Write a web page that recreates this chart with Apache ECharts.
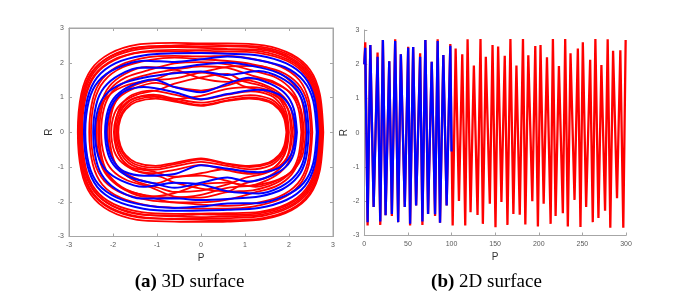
<!DOCTYPE html>
<html>
<head>
<meta charset="utf-8">
<script src="https://cdn.jsdelivr.net/npm/echarts@6/dist/echarts.min.js"></script>
<style>
html,body{margin:0;padding:0;background:#fff;}
#chart{width:696px;height:296px;}
</style>
</head>
<body>
<div id="chart"></div>
<script>
// ---------- Panel (a): phase-portrait loops, points [P, R] ----------
const redLoopsOuter = [
  [[2.78,0],[2.70,1.10],[2.48,1.79],[2.06,2.24],[1.43,2.50],[0.6,2.56],[0,2.56],[-0.6,2.57],[-1.45,2.52],[-2.08,2.26],[-2.50,1.80],[-2.72,1.11],[-2.80,0],[-2.72,-1.11],[-2.50,-1.80],[-2.08,-2.26],[-1.45,-2.52],[-0.6,-2.57],[0,-2.58],[0.6,-2.57],[1.43,-2.50],[2.06,-2.24],[2.48,-1.79],[2.70,-1.10]],
  [[2.76,0],[2.68,1.08],[2.46,1.75],[2.04,2.20],[1.41,2.45],[0.6,2.5],[0,2.52],[-0.6,2.5],[-1.43,2.43],[-2.06,2.18],[-2.48,1.74],[-2.70,1.07],[-2.78,0],[-2.70,-1.08],[-2.48,-1.75],[-2.06,-2.20],[-1.43,-2.45],[-0.6,-2.5],[0,-2.52],[0.6,-2.53],[1.41,-2.47],[2.04,-2.22],[2.46,-1.76],[2.68,-1.08]],
  [[2.74,0],[2.66,1.06],[2.44,1.72],[2.02,2.16],[1.39,2.41],[0.6,2.47],[0,2.46],[-0.6,2.48],[-1.41,2.45],[-2.04,2.2],[-2.46,1.75],[-2.68,1.08],[-2.76,0],[-2.68,-1.07],[-2.46,-1.74],[-2.04,-2.18],[-1.41,-2.43],[-0.6,-2.49],[0,-2.48],[0.6,-2.47],[1.39,-2.41],[2.02,-2.16],[2.44,-1.72],[2.66,-1.06]],
  [[2.72,0],[2.64,1.04],[2.42,1.69],[2.0,2.13],[1.37,2.37],[0.6,2.4],[0,2.43],[-0.6,2.45],[-1.39,2.39],[-2.02,2.15],[-2.44,1.71],[-2.66,1.05],[-2.74,0],[-2.66,-1.03],[-2.44,-1.68],[-2.02,-2.11],[-1.39,-2.35],[-0.6,-2.42],[0,-2.44],[0.6,-2.42],[1.37,-2.37],[2.0,-2.13],[2.42,-1.69],[2.64,-1.04]],
  [[2.70,0],[2.62,1.02],[2.40,1.67],[1.98,2.09],[1.35,2.33],[0.6,2.38],[0,2.36],[-0.6,2.37],[-1.37,2.31],[-2.0,2.08],[-2.42,1.65],[-2.64,1.01],[-2.72,0],[-2.64,-1.04],[-2.42,-1.69],[-2.0,-2.13],[-1.37,-2.37],[-0.6,-2.4],[0,-2.36],[0.6,-2.38],[1.35,-2.33],[1.98,-2.09],[2.40,-1.67],[2.62,-1.02]],
  [[2.68,0],[2.60,1.0],[2.38,1.63],[1.96,2.05],[1.33,2.28],[0.6,2.32],[0,2.3],[-0.6,2.33],[-1.35,2.3],[-1.98,2.07],[-2.40,1.65],[-2.62,1.01],[-2.70,0],[-2.62,-1.01],[-2.40,-1.65],[-1.98,-2.07],[-1.35,-2.3],[-0.6,-2.35],[0,-2.34],[0.6,-2.33],[1.33,-2.29],[1.96,-2.06],[2.38,-1.64],[2.60,-1.01]],
  [[2.53,0],[2.45,0.92],[2.23,1.51],[1.81,1.89],[1.18,2.11],[0.6,2.2],[0,2.18],[-0.6,2.2],[-1.19,2.16],[-1.82,1.94],[-2.24,1.54],[-2.46,0.95],[-2.54,0],[-2.46,-0.92],[-2.24,-1.51],[-1.82,-1.89],[-1.19,-2.11],[-0.6,-2.17],[0,-2.2],[0.6,-2.2],[1.18,-2.14],[1.81,-1.92],[2.23,-1.53],[2.45,-0.94]],
  [[2.50,0],[2.42,0.86],[2.20,1.4],[1.78,1.76],[1.15,1.96],[0.6,2.05],[0,2.1],[-0.6,2.15],[-1.15,2.08],[-1.78,1.87],[-2.20,1.48],[-2.42,0.91],[-2.5,0],[-2.42,-0.86],[-2.20,-1.4],[-1.78,-1.76],[-1.15,-1.96],[-0.6,-2.02],[0,-2.08],[0.6,-2.12],[1.15,-2.06],[1.78,-1.85],[2.20,-1.47],[2.42,-0.9]]
];
const redLoopsMiddle = [
  [[2.38,0],[2.31,0.82],[2.13,1.33],[1.78,1.7],[1.28,1.91],[0.6,1.88],[0,1.72],[-0.6,1.55],[-1.28,1.47],[-1.78,1.31],[-2.13,1.02],[-2.31,0.63],[-2.38,0],[-2.31,-0.78],[-2.13,-1.26],[-1.78,-1.61],[-1.28,-1.81],[-0.6,-1.88],[0,-1.8],[0.6,-1.6],[1.28,-1.52],[1.78,-1.35],[2.13,-1.05],[2.31,-0.65]],
  [[2.34,0],[2.27,0.66],[2.09,1.07],[1.74,1.37],[1.24,1.55],[0.6,1.45],[0,1.55],[-0.6,1.8],[-1.24,1.88],[-1.74,1.67],[-2.09,1.31],[-2.27,0.81],[-2.34,0],[-2.27,-0.8],[-2.09,-1.29],[-1.74,-1.65],[-1.24,-1.86],[-0.6,-1.75],[0,-1.5],[0.6,-1.45],[1.24,-1.57],[1.74,-1.39],[2.09,-1.09],[2.27,-0.67]],
  [[2.31,0],[2.24,0.76],[2.06,1.22],[1.71,1.57],[1.21,1.76],[0.6,1.95],[0,2.02],[-0.6,1.98],[-1.21,1.78],[-1.71,1.58],[-2.06,1.24],[-2.24,0.76],[-2.31,0],[-2.24,-0.79],[-2.06,-1.28],[-1.71,-1.64],[-1.21,-1.84],[-0.6,-2.02],[0,-2.02],[0.6,-1.94],[1.21,-1.74],[1.71,-1.55],[2.06,-1.21],[2.24,-0.75]],
  [[2.28,0],[2.21,0.69],[2.03,1.12],[1.68,1.44],[1.18,1.62],[0.6,1.85],[0,1.9],[-0.6,1.8],[-1.17,1.67],[-1.67,1.48],[-2.02,1.16],[-2.2,0.71],[-2.27,0],[-2.2,-0.67],[-2.02,-1.09],[-1.67,-1.39],[-1.17,-1.57],[-0.6,-1.85],[0,-1.88],[0.6,-1.72],[1.18,-1.67],[1.68,-1.48],[2.03,-1.16],[2.21,-0.71]],
  [[2.12,0],[2.05,0.64],[1.87,1.03],[1.52,1.32],[1.02,1.49],[0.6,1.35],[0,1.2],[-0.6,1.3],[-1.02,1.42],[-1.52,1.26],[-1.87,0.99],[-2.05,0.61],[-2.12,0],[-2.05,-0.63],[-1.87,-1.02],[-1.52,-1.31],[-1.02,-1.47],[-0.6,-1.3],[0,-1.25],[0.6,-1.4],[1.02,-1.55],[1.52,-1.37],[1.87,-1.07],[2.05,-0.66]],
  [[2.08,0],[2.01,0.57],[1.83,0.92],[1.48,1.17],[0.98,1.32],[0.6,1.55],[0,1.72],[-0.6,1.72],[-0.98,1.55],[-1.48,1.37],[-1.83,1.07],[-2.01,0.66],[-2.08,0],[-2.01,-0.68],[-1.83,-1.1],[-1.48,-1.41],[-0.98,-1.59],[-0.6,-1.72],[0,-1.68],[0.6,-1.5],[0.98,-1.32],[1.48,-1.17],[1.83,-0.92],[2.01,-0.57]],
  [[2.05,0],[1.98,0.63],[1.8,1.02],[1.45,1.31],[0.95,1.47],[0.6,1.68],[0,1.58],[-0.6,1.4],[-0.94,1.23],[-1.44,1.09],[-1.79,0.85],[-1.97,0.53],[-2.04,0],[-1.97,-0.55],[-1.79,-0.88],[-1.44,-1.13],[-0.94,-1.27],[-0.6,-1.45],[0,-1.62],[0.6,-1.7],[0.95,-1.49],[1.45,-1.32],[1.8,-1.03],[1.98,-0.64]]
];
const redLoopsInner = [
  [[2.0,0],[1.95,0.52],[1.83,0.88],[1.6,1.17],[1.15,1.3],[0.6,1.25],[0,1.05],[-0.6,0.96],[-1.13,1.05],[-1.58,0.95],[-1.81,0.71],[-1.93,0.42],[-1.98,0],[-1.93,-0.45],[-1.81,-0.76],[-1.58,-1.01],[-1.13,-1.12],[-0.6,-1.28],[0,-1.18],[0.6,-1.05],[1.15,-1.18],[1.6,-1.06],[1.83,-0.8],[1.95,-0.47]],
  [[1.98,0],[1.93,0.47],[1.81,0.8],[1.58,1.06],[1.13,1.18],[0.6,1.08],[0,0.94],[-0.6,1.08],[-1.11,1.2],[-1.56,1.08],[-1.79,0.82],[-1.91,0.48],[-1.96,0],[-1.91,-0.47],[-1.79,-0.8],[-1.56,-1.06],[-1.11,-1.18],[-0.6,-1.08],[0,-0.94],[0.6,-1.1],[1.13,-1.2],[1.58,-1.08],[1.81,-0.82],[1.93,-0.48]],
  [[1.97,0],[1.92,0.43],[1.8,0.73],[1.57,0.96],[1.12,1.07],[0.6,0.98],[0,0.85],[-0.6,0.97],[-1.08,1.08],[-1.53,0.97],[-1.76,0.73],[-1.88,0.43],[-1.93,0],[-1.88,-0.43],[-1.76,-0.73],[-1.53,-0.97],[-1.08,-1.08],[-0.6,-0.98],[0,-0.85],[0.6,-0.97],[1.12,-1.07],[1.57,-0.96],[1.8,-0.73],[1.92,-0.43]],
  [[1.96,0],[1.91,0.4],[1.79,0.68],[1.56,0.9],[1.11,1.0],[0.6,0.92],[0,0.78],[-0.6,0.92],[-1.05,1.02],[-1.5,0.92],[-1.73,0.69],[-1.85,0.41],[-1.9,0],[-1.85,-0.41],[-1.73,-0.69],[-1.5,-0.92],[-1.05,-1.02],[-0.6,-0.92],[0,-0.78],[0.6,-0.92],[1.11,-1.0],[1.56,-0.9],[1.79,-0.68],[1.91,-0.4]],
  [[1.94,0],[1.89,0.39],[1.77,0.66],[1.54,0.87],[1.09,0.97],[0.6,0.9],[0,0.76],[-0.6,0.88],[-1.03,0.97],[-1.48,0.87],[-1.71,0.66],[-1.83,0.39],[-1.88,0],[-1.83,-0.39],[-1.71,-0.66],[-1.48,-0.87],[-1.03,-0.97],[-0.6,-0.88],[0,-0.75],[0.6,-0.9],[1.09,-0.97],[1.54,-0.87],[1.77,-0.66],[1.89,-0.39]]
];
const blueLoops = [
  [[2.66,0],[2.58,0.97],[2.36,1.58],[1.94,1.98],[1.31,2.21],[0.6,2.26],[0,2.28],[-0.6,2.27],[-1.31,2.21],[-1.94,1.99],[-2.36,1.58],[-2.58,0.97],[-2.66,0],[-2.58,-0.96],[-2.36,-1.57],[-1.94,-1.97],[-1.31,-2.2],[-0.6,-2.26],[0,-2.25],[0.6,-2.23],[1.31,-2.18],[1.94,-1.95],[2.36,-1.55],[2.58,-0.95]],
  [[2.63,0],[2.55,0.91],[2.33,1.48],[1.91,1.87],[1.28,2.08],[0.6,2.18],[0,2.1],[-0.6,2.02],[-1.28,2.06],[-1.91,1.85],[-2.33,1.47],[-2.55,0.9],[-2.63,0],[-2.55,-0.92],[-2.33,-1.5],[-1.91,-1.88],[-1.28,-2.1],[-0.6,-2.18],[0,-2.14],[0.6,-2.05],[1.28,-2.04],[1.91,-1.83],[2.33,-1.46],[2.55,-0.89]],
  [[2.45,0],[2.38,0.8],[2.2,1.29],[1.85,1.65],[1.35,1.86],[0.6,2.0],[0,1.95],[-0.6,1.85],[-1.35,1.86],[-1.85,1.65],[-2.2,1.29],[-2.38,0.8],[-2.45,0],[-2.38,-0.82],[-2.2,-1.33],[-1.85,-1.7],[-1.35,-1.91],[-0.6,-1.9],[0,-1.95],[0.6,-1.92],[1.35,-1.84],[1.85,-1.64],[2.2,-1.28],[2.38,-0.79]],
  [[2.41,0],[2.34,0.76],[2.16,1.22],[1.81,1.57],[1.31,1.76],[0.6,1.65],[0,1.75],[-0.6,1.7],[-1.31,1.57],[-1.81,1.39],[-2.16,1.09],[-2.34,0.67],[-2.41,0],[-2.34,-0.67],[-2.16,-1.09],[-1.81,-1.39],[-1.31,-1.57],[-0.6,-1.45],[0,-1.5],[0.6,-1.7],[1.31,-1.76],[1.81,-1.57],[2.16,-1.22],[2.34,-0.76]],
  [[2.18,0],[2.11,0.67],[1.93,1.09],[1.58,1.39],[1.08,1.57],[0.6,1.4],[0,1.15],[-0.6,1.3],[-1.08,1.52],[-1.58,1.35],[-1.93,1.05],[-2.11,0.65],[-2.18,0],[-2.11,-0.63],[-1.93,-1.02],[-1.58,-1.31],[-1.08,-1.47],[-0.6,-1.6],[0,-1.45],[0.6,-1.3],[1.08,-1.42],[1.58,-1.26],[1.93,-0.99],[2.11,-0.61]],
  [[2.15,0],[2.1,0.49],[1.98,0.83],[1.75,1.1],[1.3,1.22],[0.6,1.1],[0,0.95],[-0.6,1.15],[-1.3,1.3],[-1.75,1.17],[-1.98,0.88],[-2.1,0.52],[-2.15,0],[-2.1,-0.5],[-1.98,-0.85],[-1.75,-1.13],[-1.3,-1.25],[-0.6,-1.2],[0,-0.95],[0.6,-1.05],[1.3,-1.15],[1.75,-1.04],[1.98,-0.78],[2.1,-0.46]]
];

// ---------- Panel (b): time series (t, R) ----------
const timeBlue = [0,1.1,3.8,6.9,10.7,15.2,18.3,21.3,24.4,28.6,31.6,35.4,38.8,41.9,46.4,50.3,52.5,56.0,59.4,64.0,66.6,70.0,73.1,77.3,81.1,84.1,86.8,90.6,94.4,98.6,100];
const valueBlue = [2.0,2.48,-2.61,2.56,-2.17,2.22,-2.59,2.71,-2.41,2.09,-2.37,2.68,-2.61,2.29,-2.17,2.48,-2.66,2.5,-2.12,2.22,-2.59,2.71,-2.37,2.07,-2.38,2.68,-2.63,2.27,-2.12,2.54,-0.55];
const timeRed = [0,1.1,3.8,6.9,10.7,15.2,18.3,21.3,24.4,28.6,31.6,35.4,38.8,41.9,46.4,50.3,52.5,56.0,59.4,64.0,66.6,70.0,73.1,77.3,81.1,84.1,86.8,90.6,94.4,98.6,
  101.3,104.7,108.5,112.3,115.7,118.4,121.8,125.6,129.8,133.2,135.9,139.3,143.9,147,150.4,153.4,157.2,161,164.1,167.5,170.9,174.4,178.2,181.9,184.6,188,192.6,196,199,202,
  205.6,209.4,213.6,216.2,219.3,223.1,227.6,230.3,233.3,236.4,241,244.8,247.8,250.5,254.3,258.9,261.9,264.9,268.4,271.8,276,279,282,285.2,289.7,293.5,296.9,299.6];
const valueRed = [2.0,2.64,-2.71,2.56,-2.17,2.34,-2.69,2.71,-2.41,2.09,-2.43,2.73,-2.61,2.29,-2.17,2.51,-2.71,2.5,-2.12,2.32,-2.69,2.71,-2.37,2.07,-2.43,2.73,-2.63,2.27,-2.12,2.59,
  -2.71,2.46,-1.99,2.29,-2.71,2.73,-2.32,1.96,-2.4,2.74,-2.66,2.22,-2.07,2.56,-2.76,2.52,-2.02,2.25,-2.69,2.74,-2.37,1.96,-2.39,2.74,-2.68,2.26,-2.0,2.53,-2.74,2.56,
  -2.07,2.2,-2.66,2.74,-2.43,1.95,-2.35,2.74,-2.74,2.32,-1.96,2.46,-2.75,2.64,-2.17,2.13,-2.61,2.74,-2.49,1.98,-2.28,2.73,-2.77,2.39,-1.91,2.41,-2.77,2.71];

// ---------- Ticks / labels ----------
const phaseTicks = [-3,-2,-1,0,1,2,3];
const timeTicks = [0,50,100,150,200,250,300];
const captionA = ['(a)', '3D surface'];
const captionB = ['(b)', '2D surface'];

const RED = '#ff0000', BLUE = '#0000ff';
const AX = '#a6a6a6', LBL = '#5a5a5a';
const sans = 'Liberation Sans, Arial, sans-serif';

function loopSeries(loop, color, width) {
  return {
    type: 'line', xAxisIndex: 0, yAxisIndex: 0,
    data: loop.concat([loop[0]]),
    smooth: 0.3, showSymbol: false, silent: true, animation: false,
    lineStyle: { color: color, width: width }
  };
}

function axisBase(extra) {
  return Object.assign({
    type: 'value',
    splitLine: { show: false },
    axisLine: { show: true, onZero: false, lineStyle: { color: AX, width: 1 } },
    axisTick: { show: true, inside: true, length: 3, lineStyle: { color: AX } },
    axisLabel: { show: true, color: LBL, fontSize: 7, fontFamily: sans, margin: 5 },
    nameTextStyle: { color: '#333', fontSize: 10, fontFamily: sans }
  }, extra);
}

const series = [];
redLoopsOuter.concat(redLoopsMiddle, redLoopsInner).forEach(l => series.push(loopSeries(l, RED, 1.8)));
blueLoops.forEach(l => series.push(loopSeries(l, BLUE, 2)));
series.push({
  type: 'line', xAxisIndex: 2, yAxisIndex: 2, showSymbol: false, silent: true, animation: false,
  data: timeRed.map((t, i) => [t, valueRed[i]]),
  lineStyle: { color: RED, width: 2.3 }
});
series.push({
  type: 'line', xAxisIndex: 2, yAxisIndex: 2, showSymbol: false, silent: true, animation: false,
  data: timeBlue.map((t, i) => [t, valueBlue[i]]),
  lineStyle: { color: BLUE, width: 2.3 }
});

const option = {
  animation: false,
  backgroundColor: '#fff',
  grid: [
    { left: 69, top: 28, width: 264, height: 208.5, show: true, borderColor: AX, borderWidth: 1, backgroundColor: 'transparent' },
    { left: 364.3, top: 30, width: 261.7, height: 205.5 }
  ],
  xAxis: [
    axisBase({ gridIndex: 0, min: phaseTicks[0], max: phaseTicks[phaseTicks.length-1], interval: 1, name: 'P', nameLocation: 'middle', nameGap: 14 }),
    axisBase({ gridIndex: 0, position: 'top', min: -3, max: 3, interval: 1, axisLabel: { show: false } }),
    axisBase({ gridIndex: 1, min: timeTicks[0], max: timeTicks[timeTicks.length-1], interval: 50, name: 'P', nameLocation: 'middle', nameGap: 14 })
  ],
  yAxis: [
    axisBase({ gridIndex: 0, min: -3, max: 3, interval: 1, name: 'R', nameLocation: 'middle', nameGap: 15 }),
    axisBase({ gridIndex: 0, position: 'right', min: -3, max: 3, interval: 1, axisLabel: { show: false } }),
    axisBase({ gridIndex: 1, min: -3, max: 3, interval: 1, name: 'R', nameLocation: 'middle', nameGap: 15 })
  ],
  graphic: [
    { type: 'text', x: 189.5, y: 282, silent: true,
      style: { text: '{b|' + captionA[0] + '} ' + captionA[1], fill: '#000', font: '19px "Liberation Serif", "Times New Roman", serif',
        align: 'center', verticalAlign: 'middle',
        rich: { b: { fontWeight: 'bold', fontSize: 19, fontFamily: 'Liberation Serif' } } } },
    { type: 'text', x: 486.5, y: 282, silent: true,
      style: { text: '{b|' + captionB[0] + '} ' + captionB[1], fill: '#000', font: '19px "Liberation Serif", "Times New Roman", serif',
        align: 'center', verticalAlign: 'middle',
        rich: { b: { fontWeight: 'bold', fontSize: 19, fontFamily: 'Liberation Serif' } } } }
  ],
  series: series
};

const chart = echarts.init(document.getElementById('chart'), null, { renderer: 'canvas' });
chart.setOption(option);
</script>
</body>
</html>
